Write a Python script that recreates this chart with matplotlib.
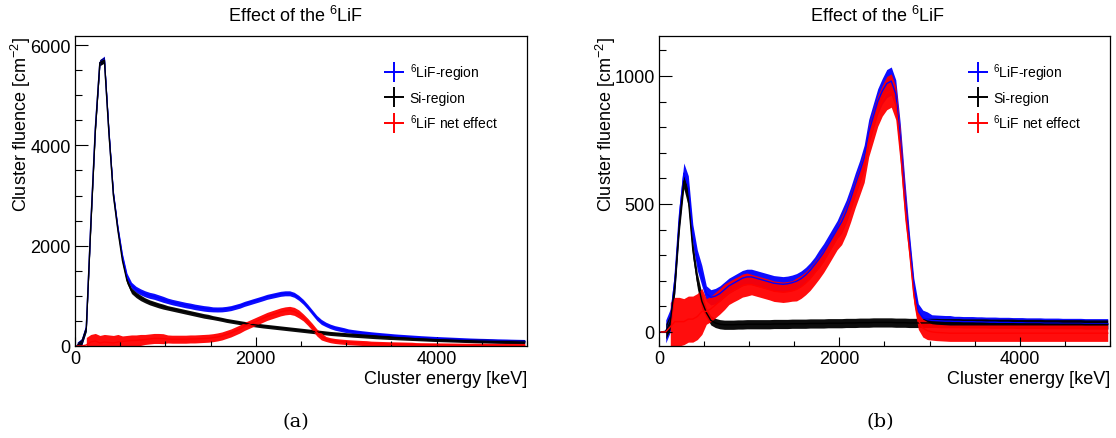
import numpy as np
import matplotlib
matplotlib.use("Agg")
import matplotlib.pyplot as plt
from matplotlib.lines import Line2D
from matplotlib.ticker import MultipleLocator

plt.rcParams['font.family'] = ['Liberation Sans', 'DejaVu Sans']
plt.rcParams['mathtext.fontset'] = 'custom'
plt.rcParams['mathtext.rm'] = 'Liberation Sans'

# 50 keV bins, 0 - 5000 keV
bin_edges = np.arange(0, 5001, 50)
energy = bin_edges[:-1] + 25

# ---- panel (a) ----
lif_a = [
    10, 80, 370, 2450, 4350, 5650, 5720, 4280, 3030, 2340,
    1780, 1390, 1210, 1130, 1080, 1040, 1010, 990, 960, 930,
    900, 875, 855, 835, 815, 800, 780, 765, 750, 740,
    730, 728, 730, 740, 755, 780, 805, 840, 867, 895,
    922, 950, 980, 1000, 1020, 1040, 1050, 1050, 1020, 960,
    880, 780, 670, 560, 480, 430, 390, 360, 340, 320,
    300, 287, 275, 264, 254, 244, 235, 227, 219, 211,
    203, 196, 190, 184, 178, 172, 166, 161, 156, 151,
    147, 143, 139, 135, 131, 127, 123, 119, 116, 113,
    111, 108, 106, 103, 101, 99, 96, 94, 92, 90,
]
si_a = [
    10, 80, 350, 2400, 4300, 5650, 5700, 4250, 3000, 2300,
    1700, 1300, 1100, 1020, 960, 910, 870, 840, 810, 785,
    760, 740, 720, 700, 680, 660, 640, 620, 600, 585,
    565, 548, 530, 510, 495, 480, 465, 450, 437, 425,
    412, 400, 390, 380, 370, 360, 350, 340, 330, 320,
    310, 300, 290, 280, 270, 260, 250, 243, 236, 229,
    222, 215, 209, 203, 197, 191, 185, 180, 175, 170,
    165, 160, 156, 152, 148, 144, 140, 136, 132, 128,
    125, 122, 119, 116, 113, 110, 107, 104, 101, 99,
    97, 95, 93, 91, 89, 87, 85, 83, 81, 80,
]
net_a = [
    0, 0, 20, 80, 100, 60, 80, 70, 60, 80,
    90, 100, 110, 110, 120, 130, 140, 150, 150, 145,
    140, 135, 135, 135, 135, 140, 140, 145, 150, 155,
    165, 180, 200, 230, 260, 300, 340, 390, 430, 470,
    510, 550, 590, 620, 650, 680, 700, 710, 690, 640,
    570, 480, 380, 270, 190, 140, 115, 100, 90, 82,
    75, 70, 65, 60, 56, 52, 49, 46, 43, 40,
    38, 36, 34, 32, 30, 28, 26, 25, 24, 23,
    22, 21, 20, 19, 18, 17, 16, 15, 15, 14,
    14, 13, 13, 12, 12, 12, 11, 11, 11, 10,
]
# visible spread (half width of the noise band) per 250 keV block
lif_a_spread = [70, 60, 60, 60, 55, 55, 50, 50, 50, 50,
                50, 45, 40, 40, 40, 40, 40, 40, 40, 40]
si_a_spread = [60, 60, 55, 50, 45, 45, 40, 40, 40, 40,
               40, 40, 40, 40, 38, 38, 38, 38, 38, 38]
net_a_spread = [150, 150, 110, 100, 80, 80, 80, 80, 80, 80,
                70, 50, 50, 45, 45, 40, 40, 40, 40, 40]

# ---- panel (b) ----
lif_b = [
    0, 2, 45, 200, 450, 620, 570, 380, 280, 220,
    150, 135, 140, 150, 165, 180, 190, 200, 210, 215,
    215, 210, 205, 200, 195, 190, 188, 186, 188, 192,
    198, 208, 222, 240, 262, 285, 310, 340, 370, 400,
    430, 470, 520, 575, 625, 680, 780, 840, 900, 940,
    970, 980, 930, 760, 540, 360, 180, 80, 55, 48,
    45, 44, 43, 42, 42, 41, 41, 40, 40, 40,
    39, 39, 38, 38, 38, 37, 37, 37, 36, 36,
    36, 35, 35, 35, 35, 34, 34, 34, 34, 33,
    33, 33, 33, 33, 32, 32, 32, 32, 32, 32,
]
si_b = [
    0, 2, 40, 180, 420, 590, 520, 320, 200, 120,
    75, 45, 35, 30, 28, 28, 28, 29, 29, 30,
    30, 30, 30, 30, 30, 31, 31, 31, 31, 32,
    32, 32, 32, 33, 33, 33, 33, 34, 34, 34,
    34, 35, 35, 35, 36, 36, 36, 37, 37, 37,
    37, 37, 36, 36, 36, 35, 35, 35, 35, 35,
    35, 35, 34, 34, 34, 34, 34, 33, 33, 33,
    33, 33, 33, 32, 32, 32, 32, 32, 32, 31,
    31, 31, 31, 31, 31, 30, 30, 30, 30, 30,
    30, 30, 30, 30, 29, 29, 29, 29, 29, 29,
]
net_b = [
    0, 0, 20, 40, 40, 40, 50, 50, 60, 80,
    80, 90, 105, 120, 137, 152, 162, 171, 181, 185,
    185, 180, 175, 170, 165, 159, 157, 155, 157, 160,
    166, 176, 190, 207, 229, 252, 277, 306, 336, 366,
    396, 435, 485, 540, 589, 644, 744, 803, 863, 903,
    933, 943, 894, 724, 504, 325, 145, 45, 15, 5,
    0, -2, -3, -4, -5, -5, -5, -5, -5, -5,
    -5, -5, -5, -5, -5, -5, -5, -5, -5, -5,
    -5, -5, -5, -5, -5, -5, -5, -5, -5, -5,
    -5, -5, -5, -5, -5, -5, -5, -5, -5, -5,
]
lif_b_spread = [45, 40, 30, 30, 30, 30, 30, 35, 45, 50,
                55, 30, 22, 20, 20, 20, 20, 20, 20, 20]
si_b_spread = [30, 30, 18, 18, 18, 18, 18, 18, 18, 18,
               18, 18, 18, 18, 18, 18, 18, 18, 18, 18]
net_b_spread = [95, 90, 50, 45, 40, 40, 45, 45, 55, 60,
                65, 35, 32, 32, 32, 32, 32, 32, 32, 32]

labels = [r'$\mathregular{^{6}}$LiF-region', 'Si-region', r'$\mathregular{^{6}}$LiF net effect']
colors = ['#0000ff', '#000000', '#ff0000']


def draw_hist(ax, vals, spread, color):
    vals = np.asarray(vals, dtype=float)
    err = np.repeat(spread, 5)
    # no band before the histogram has any entries
    filled = np.cumsum(np.abs(vals)) > 0
    ax.fill_between(energy, vals - err, vals + err, where=filled,
                    color=color, lw=0, alpha=0.95)
    ax.plot(energy, vals, color=color, lw=1.0)


def style_axes(ax, major, minor):
    ax.xaxis.set_major_locator(MultipleLocator(2000))
    ax.xaxis.set_minor_locator(MultipleLocator(500))
    ax.yaxis.set_major_locator(MultipleLocator(major))
    ax.yaxis.set_minor_locator(MultipleLocator(minor))
    ax.tick_params(which='both', direction='in', top=False, right=False,
                   labelsize=13, pad=3)
    ax.tick_params(axis='y', which='major', length=9.5, width=0.8)
    ax.tick_params(axis='y', which='minor', length=4.7, width=0.8)
    ax.tick_params(axis='x', which='major', length=6.5, width=0.8)
    ax.tick_params(axis='x', which='minor', length=3.3, width=0.8)
    for sp in ax.spines.values():
        sp.set_linewidth(0.9)
    ax.set_xlim(0, 5000)
    ax.set_xlabel('Cluster energy [keV]', fontsize=13, loc='right', labelpad=2)
    ax.set_ylabel(r'Cluster fluence [cm$\mathregular{^{-2}}$]', fontsize=13, loc='top')
    ax.yaxis.set_label_coords(-0.092, 1.0)
    handles = [Line2D([], [], color=c, marker='+', markersize=15, mew=1.4, ls='none')
               for c in colors]
    ax.legend(handles, labels, loc='upper left', bbox_to_anchor=(0.67, 0.94),
              frameon=False, fontsize=10, handlelength=1.4, handletextpad=0.4,
              labelspacing=0.55, borderpad=0)


fig = plt.figure(figsize=(11.16, 4.39), dpi=100)
ax_a = fig.add_axes([0.0672, 0.2096, 0.405, 0.7061])
ax_b = fig.add_axes([0.5905, 0.2096, 0.4041, 0.7061])

for vals, spread, c in zip([lif_a, si_a, net_a],
                           [lif_a_spread, si_a_spread, net_a_spread], colors):
    draw_hist(ax_a, vals, spread, c)
ax_a.set_ylim(0, 6180)
style_axes(ax_a, 2000, 500)

for vals, spread, c in zip([lif_b, si_b, net_b],
                           [lif_b_spread, si_b_spread, net_b_spread], colors):
    draw_hist(ax_b, vals, spread, c)
ax_b.set_ylim(-55, 1156)
style_axes(ax_b, 500, 100)

title = r'Effect of the $\mathregular{^{6}}$LiF'
fig.text(296 / 1116, 1 - 16 / 439, title, ha='center', va='center', fontsize=13)
fig.text(878 / 1116, 1 - 16 / 439, title, ha='center', va='center', fontsize=13)

fig.text(296 / 1116, 1 - 422 / 439, '(a)', ha='center', va='center',
         fontsize=14, family='DejaVu Serif')
fig.text(880 / 1116, 1 - 422 / 439, '(b)', ha='center', va='center',
         fontsize=14, family='DejaVu Serif')

fig.savefig('out.png', dpi=100)
